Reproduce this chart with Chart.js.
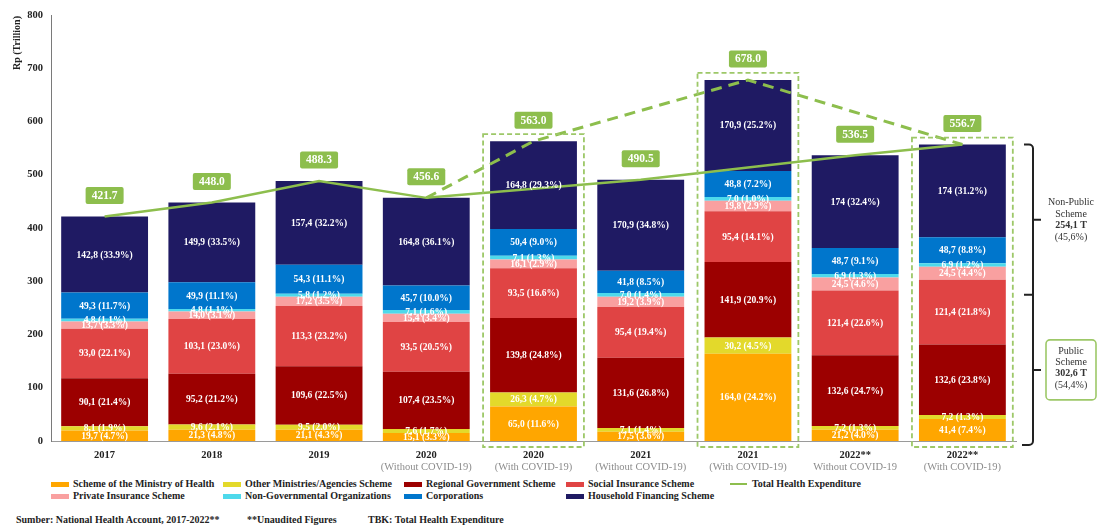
<!DOCTYPE html>
<html>
<head>
<meta charset="utf-8">
<script src="https://cdn.jsdelivr.net/npm/chart.js@4.4.1/dist/chart.umd.min.js"></script>
<style>
  body { margin: 0; background: #fff; width: 1101px; height: 526px; overflow: hidden; font-family: "Liberation Serif", serif; }
  #wrap { position: absolute; left: 0; top: 0; width: 1101px; height: 472px; }
  .lg { position: absolute; height: 12px; line-height: 12px; font-size: 10px; font-weight: bold; color: #222; white-space: nowrap; display: flex; align-items: center; }
  .sw { display: inline-block; width: 18px; height: 5px; margin-right: 4px; }
  .ln { display: inline-block; width: 17px; height: 2px; margin-right: 5px; }
  .ft { position: absolute; top: 514px; font-size: 10px; font-weight: bold; color: #222; white-space: nowrap; }
</style>
</head>
<body>
<div id="wrap"><canvas id="thb"></canvas></div>
<div id="legend"></div>
<div class="ft" style="left:16px">Sumber: National Health Account, 2017-2022**</div>
<div class="ft" style="left:247px">**Unaudited Figures</div>
<div class="ft" style="left:368px">TBK: Total Health Expenditure</div>
<script>
// categories (years, some split with / without COVID-19 spending)
var categories = ["2017", "2018", "2019", "2020", "2020", "2021", "2021", "2022**", "2022**"];
var subLabels = ["", "", "", "(Without COVID-19)", "(With COVID-19)", "(Without COVID-19)", "(With COVID-19)", "Without COVID-19", "(With COVID-19)"];
var withCovid = [false, false, false, false, true, false, true, false, true];

// Rp trillion per financing scheme
var ministryHealth   = [19.7, 21.3, 21.1, 15.1, 65.0, 17.5, 164.0, 21.2, 41.4];
var otherMinistries  = [8.1, 9.6, 9.5, 7.6, 26.3, 7.1, 30.2, 7.2, 7.2];
var regionalGov      = [90.1, 95.2, 109.6, 107.4, 139.8, 131.6, 141.9, 132.6, 132.6];
var socialInsurance  = [93.0, 103.1, 113.3, 93.5, 93.5, 95.4, 95.4, 121.4, 121.4];
var privateInsurance = [13.7, 14.0, 17.2, 15.4, 16.1, 19.2, 19.8, 24.5, 24.5];
var ngo              = [4.8, 4.8, 5.8, 7.1, 7.1, 7.0, 7.0, 6.9, 6.9];
var corporations     = [49.3, 49.9, 54.3, 45.7, 50.4, 41.8, 48.8, 48.7, 48.7];
var household        = [142.8, 149.9, 157.4, 164.8, 164.8, 170.9, 170.9, 174, 174];

// share of total (%)
var ministryHealthPct   = [4.7, 4.8, 4.3, 3.3, 11.6, 3.6, 24.2, 4.0, 7.4];
var otherMinistriesPct  = [1.9, 2.1, 2.0, 1.7, 4.7, 1.4, 4.5, 1.3, 1.3];
var regionalGovPct      = [21.4, 21.2, 22.5, 23.5, 24.8, 26.8, 20.9, 24.7, 23.8];
var socialInsurancePct  = [22.1, 23.0, 23.2, 20.5, 16.6, 19.4, 14.1, 22.6, 21.8];
var privateInsurancePct = [3.3, 3.1, 3.5, 3.4, 2.9, 3.9, 2.9, 4.6, 4.4];
var ngoPct              = [1.1, 1.1, 1.2, 1.6, 1.3, 1.4, 1.0, 1.3, 1.2];
var corporationsPct     = [11.7, 11.1, 11.1, 10.0, 9.0, 8.5, 7.2, 9.1, 8.8];
var householdPct        = [33.9, 33.5, 32.2, 36.1, 29.3, 34.8, 25.2, 32.4, 31.2];

// total health expenditure
var totalHealth = [421.7, 448.0, 488.3, 456.6, 563.0, 490.5, 678.0, 536.5, 556.7];
var totalSolid  = [421.7, 448.0, 488.3, 456.6, null, 490.5, null, 536.5, 556.7];
var totalCovid  = [null, null, null, 456.6, 563.0, null, 678.0, null, 556.7];

var seriesNames = [
    "Scheme of the Ministry of Health", "Other Ministries/Agencies Scheme", "Regional Government Scheme", "Social Insurance Scheme",
    "Private Insurance Scheme", "Non-Governmental Organizations", "Corporations", "Household Financing Scheme"
];
var seriesColors = ["#FFA600", "#E3D92B", "#9C0000", "#E04444", "#F9A0A0", "#4ED9EB", "#0076CC", "#1F1A63"];
var seriesValues = [ministryHealth, otherMinistries, regionalGov, socialInsurance, privateInsurance, ngo, corporations, household];
var seriesPct = [ministryHealthPct, otherMinistriesPct, regionalGovPct, socialInsurancePct, privateInsurancePct, ngoPct, corporationsPct, householdPct];

var green = "#8DBE4D";
var serif = '"Liberation Serif", serif';

// household values that are whole numbers are printed without a decimal in the source
const fmtValue = (v, di) => (di === 7 && Number.isInteger(v)) ? String(v) : v.toFixed(1).replace(".", ",");

/* white value labels inside each bar segment */
const segmentLabels = {
    id: "segmentLabels",
    afterDatasetsDraw(chart) {
        var ctx = chart.ctx;
        ctx.save();
        ctx.font = "bold 9.5px " + serif;
        ctx.fillStyle = "#fff";
        ctx.textAlign = "center";
        ctx.textBaseline = "middle";
        seriesValues.forEach((vals, di) => {
            chart.getDatasetMeta(di).data.forEach((bar, i) => {
                var txt = fmtValue(vals[i], di) + " (" + seriesPct[di][i].toFixed(1) + "%)";
                ctx.fillText(txt, bar.x, (bar.y + bar.base) / 2 + 0.5);
            });
        });
        ctx.restore();
    }
};

/* dashed frames round the "with COVID-19" columns */
const covidFrames = {
    id: "covidFrames",
    afterDatasetsDraw(chart) {
        var ctx = chart.ctx;
        var y = chart.scales.y;
        var bars = chart.getDatasetMeta(0).data;
        ctx.save();
        ctx.strokeStyle = "#9DC868";
        ctx.lineWidth = 1.8;
        ctx.setLineDash([5, 3]);
        withCovid.forEach((on, i) => {
            if (!on) return;
            var b = bars[i];
            var left = b.x - b.width / 2 - 7;
            var top = y.getPixelForValue(totalHealth[i]) - 7;
            ctx.strokeRect(left, top, b.width + 14, y.getPixelForValue(0) + 6 - top);
        });
        ctx.restore();
    }
};

/* green total boxes, sub labels, axis title, bracket notes */
const extras = {
    id: "extras",
    afterDraw(chart) {
        var ctx = chart.ctx;
        var xs = chart.scales.x, ys = chart.scales.y;
        var area = chart.chartArea;
        ctx.save();

        // totals
        ctx.textAlign = "center";
        ctx.textBaseline = "middle";
        ctx.font = "bold 11.5px " + serif;
        totalHealth.forEach((t, i) => {
            var cx = xs.getPixelForValue(i);
            var cy = ys.getPixelForValue(t) - 21;
            ctx.fillStyle = green;
            ctx.beginPath();
            ctx.roundRect(cx - 19, cy - 8.5, 38, 17, 2);
            ctx.fill();
            ctx.fillStyle = "#fff";
            ctx.fillText(t.toFixed(1), cx, cy + 0.5);
        });

        // grey second line under the year
        ctx.font = "10.5px " + serif;
        ctx.fillStyle = "#8C8C8C";
        subLabels.forEach((s, i) => {
            if (s) ctx.fillText(s, xs.getPixelForValue(i), area.bottom + 26);
        });

        // y axis title
        ctx.save();
        ctx.translate(17, 43);
        ctx.rotate(-Math.PI / 2);
        ctx.font = "bold 10px " + serif;
        ctx.fillStyle = "#222";
        ctx.fillText("Rp (Trillion)", 0, 0);
        ctx.restore();

        // bracket on the right
        var bx = area.right + 17;
        var top = ys.getPixelForValue(totalHealth[8]);
        var bottom = area.bottom + 4;
        var mid = top + (bottom - top) * 0.5;
        ctx.strokeStyle = "#222";
        ctx.lineWidth = 2;
        ctx.beginPath();
        ctx.moveTo(bx - 9, top);
        ctx.arcTo(bx, top, bx, top + 6, 4);
        ctx.lineTo(bx, bottom - 4);
        ctx.arcTo(bx, bottom, bx - 9, bottom, 4);
        ctx.lineTo(bx - 11, bottom);
        ctx.moveTo(bx - 9, mid); ctx.lineTo(bx, mid);
        ctx.moveTo(bx, (top + mid) / 2); ctx.lineTo(bx + 8, (top + mid) / 2);
        ctx.moveTo(bx, (mid + bottom) / 2); ctx.lineTo(bx + 8, (mid + bottom) / 2);
        ctx.stroke();

        var tx = bx + 40;
        ctx.fillStyle = "#333";
        var notes = [
            { y: (top + mid) / 2 - 17, lines: ["Non-Public", "Scheme", "254,1 T", "(45,6%)"] },
            { y: (mid + bottom) / 2 - 19, lines: ["Public", "Scheme", "302,6 T", "(54,4%)"] }
        ];
        // box round the public scheme note
        ctx.strokeStyle = "#9DC868";
        ctx.lineWidth = 1.6;
        ctx.beginPath();
        ctx.roundRect(tx - 27, notes[1].y - 11, 50, 60, 4);
        ctx.stroke();
        notes.forEach(n => {
            n.lines.forEach((l, k) => {
                ctx.font = (k === 2 ? "bold " : "") + "10px " + serif;
                ctx.fillText(l, tx - 2, n.y + k * 11.5);
            });
        });
        ctx.restore();
    }
};

var datasets = seriesValues.map((vals, i) => ({
    type: "bar",
    label: seriesNames[i],
    data: vals,
    backgroundColor: seriesColors[i],
    borderWidth: 0,
    barPercentage: 0.81,
    categoryPercentage: 1,
    stack: "schemes"
}));
datasets.push({
    type: "line", label: "Total Health Expenditure", data: totalSolid,
    borderColor: green, borderWidth: 2.5, pointRadius: 0, spanGaps: true,
    stack: "thb", order: -1
});
datasets.push({
    type: "line", label: "THB with COVID-19", data: totalCovid,
    borderColor: green, borderWidth: 3, borderDash: [11, 7], pointRadius: 0, spanGaps: true,
    stack: "thbCovid", order: -1
});

new Chart("thb", {
    type: "bar",
    data: { labels: categories, datasets: datasets },
    options: {
        responsive: true,
        maintainAspectRatio: false,
        animation: false,
        layout: { padding: { top: 15, right: 85, left: 0, bottom: 0 } },
        plugins: {
            legend: { display: false },
            tooltip: { enabled: false }
        },
        scales: {
            x: {
                stacked: true,
                grid: { display: false, drawTicks: false },
                border: { color: "#9A9A9A", width: 1 },
                ticks: { color: "#222", padding: 8, font: { family: serif, size: 10.5, weight: "bold" } },
                afterFit: s => { s.height = 31; }
            },
            y: {
                stacked: true,
                min: 0,
                max: 800,
                grid: { display: false, drawTicks: false },
                border: { color: "#7A7A7A", width: 1 },
                ticks: { stepSize: 100, color: "#222", padding: 8, font: { family: serif, size: 10.5, weight: "bold" } },
                afterFit: s => { s.width = 51; }
            }
        }
    },
    plugins: [segmentLabels, covidFrames, extras]
});

// legend: two rows, bars first then the total line
var legendCols = [51, 223, 404, 566, 730];
var legendRows = [478, 490];
var lg = document.getElementById("legend");
seriesNames.forEach((name, i) => {
    var d = document.createElement("div");
    d.className = "lg";
    d.style.left = legendCols[i % 4] + "px";
    d.style.top = legendRows[i < 4 ? 0 : 1] + "px";
    d.innerHTML = '<span class="sw" style="background:' + seriesColors[i] + '"></span>' + name;
    lg.appendChild(d);
});
var t = document.createElement("div");
t.className = "lg";
t.style.left = legendCols[4] + "px";
t.style.top = legendRows[0] + "px";
t.innerHTML = '<span class="ln" style="background:' + green + '"></span>Total Health Expenditure';
lg.appendChild(t);
</script>
</body>
</html>
